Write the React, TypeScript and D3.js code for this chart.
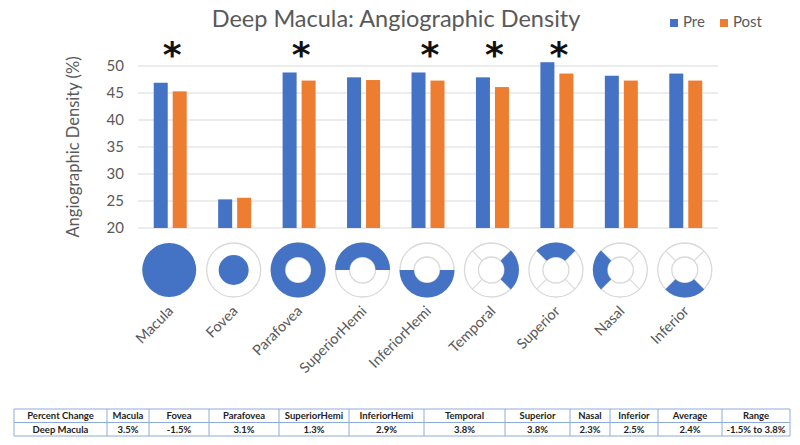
import { useEffect, useRef } from "react"
import * as d3 from "d3"

const categories = ["Macula", "Fovea", "Parafovea", "SuperiorHemi", "InferiorHemi", "Temporal", "Superior", "Nasal", "Inferior"]
const preValues = [46.9, 25.3, 48.8, 47.9, 48.8, 47.9, 50.7, 48.2, 48.6]
const postValues = [45.3, 25.6, 47.3, 47.4, 47.3, 46.1, 48.6, 47.3, 47.3]
const seriesNames = ["Pre", "Post"]
const significant = ["Macula", "Parafovea", "InferiorHemi", "Temporal", "Superior"]
const yTicks = [20, 25, 30, 35, 40, 45, 50]
// which part of the ETDRS grid each region covers
const regionShapes = ["full", "fovea", "ring", "hemiSup", "hemiInf", "temporal", "superior", "nasal", "inferior"]

const tableHeader = ["Percent Change", "Macula", "Fovea", "Parafovea", "SuperiorHemi", "InferiorHemi", "Temporal", "Superior", "Nasal", "Inferior", "Average", "Range"]
const tableRow = ["Deep Macula", "3.5%", "-1.5%", "3.1%", "1.3%", "2.9%", "3.8%", "3.8%", "2.3%", "2.5%", "2.4%", "-1.5% to 3.8%"]

const BLUE = "#4472c4"
const ORANGE = "#ed7d31"
const GRID = "#d9d9d9"
const TEXT = "#595959"
const FONT = "Lato, 'Open Sans', sans-serif"

export default function App() {
  const svgRef = useRef<SVGSVGElement>(null)

  useEffect(() => {
    if (!svgRef.current) return
    const width = 800
    const height = 445
    const margin = { top: 66, right: 82, bottom: 217, left: 138 }

    const svg = d3.select(svgRef.current).attr("width", width).attr("height", height)
    svg.selectAll("*").remove()

    const x = d3
      .scaleBand<string>()
      .domain(categories)
      .range([margin.left, width - margin.right])
      .paddingInner(0.488)
      .paddingOuter(0.244)

    const xSeries = d3.scaleBand<string>().domain(seriesNames).range([0, x.bandwidth()]).paddingInner(0.263)

    const y = d3
      .scaleLinear()
      .domain([20, 50])
      .range([height - margin.bottom, margin.top])

    // gridlines
    svg
      .append("g")
      .selectAll("line")
      .data(yTicks)
      .join("line")
      .attr("x1", margin.left)
      .attr("x2", width - margin.right)
      .attr("y1", (d) => y(d))
      .attr("y2", (d) => y(d))
      .attr("stroke", GRID)
      .attr("stroke-width", 1)

    // y axis labels
    svg
      .append("g")
      .selectAll("text")
      .data(yTicks)
      .join("text")
      .attr("x", margin.left - 14)
      .attr("y", (d) => y(d))
      .attr("dy", "0.35em")
      .attr("text-anchor", "end")
      .attr("font-family", FONT)
      .attr("font-size", 15)
      .attr("fill", TEXT)
      .text((d) => d)

    svg
      .append("text")
      .attr("transform", "rotate(-90)")
      .attr("x", -147)
      .attr("y", 79)
      .attr("text-anchor", "middle")
      .attr("font-family", FONT)
      .attr("font-size", 16.5)
      .attr("fill", TEXT)
      .text("Angiographic Density (%)")

    // bars
    const series = [preValues, postValues]
    const colors = [BLUE, ORANGE]
    series.forEach((values, si) => {
      svg
        .append("g")
        .selectAll("rect")
        .data(values)
        .join("rect")
        .attr("x", (_, i) => (x(categories[i]) as number) + (xSeries(seriesNames[si]) as number))
        .attr("y", (d) => y(d))
        .attr("width", xSeries.bandwidth())
        .attr("height", (d) => y(20) - y(d))
        .attr("fill", colors[si])
    })

    // significance markers
    svg
      .append("g")
      .selectAll("text")
      .data(significant)
      .join("text")
      .attr("x", (d) => (x(d) as number) + x.bandwidth() / 2 + 2)
      .attr("y", 67)
      .attr("text-anchor", "middle")
      .attr("font-family", "'DejaVu Sans', sans-serif")
      .attr("font-weight", "bold")
      .attr("font-size", 36)
      .attr("fill", "#111")
      .text("*")

    // title
    svg
      .append("text")
      .attr("x", 396)
      .attr("y", 27)
      .attr("text-anchor", "middle")
      .attr("font-family", FONT)
      .attr("font-size", 23.5)
      .attr("fill", TEXT)
      .text("Deep Macula: Angiographic Density")

    // legend
    const legend = svg.append("g").attr("transform", "translate(670,0)")
    const legendOffsets = [0, 50]
    seriesNames.forEach((name, i) => {
      const g = legend.append("g").attr("transform", `translate(${legendOffsets[i]},0)`)
      g.append("rect").attr("x", 0).attr("y", 19).attr("width", 8).attr("height", 8).attr("fill", colors[i])
      g.append("text")
        .attr("x", 13)
        .attr("y", 27)
        .attr("font-family", FONT)
        .attr("font-size", 15)
        .attr("fill", TEXT)
        .text(name)
    })

    // region diagrams
    const cy = 270
    const rOuter = 27
    const rInner = 13
    const arc = d3.arc<{ a0: number; a1: number; r0: number; r1: number }>()
      .innerRadius((d) => d.r0)
      .outerRadius((d) => d.r1)
      .startAngle((d) => d.a0)
      .endAngle((d) => d.a1)
    const P = Math.PI
    const sectorAngles: Record<string, [number, number]> = {
      ring: [0, 2 * P],
      hemiSup: [-P / 2, P / 2],
      hemiInf: [P / 2, (3 * P) / 2],
      temporal: [P / 4, (3 * P) / 4],
      superior: [-P / 4, P / 4],
      nasal: [(5 * P) / 4, (7 * P) / 4],
      inferior: [(3 * P) / 4, (5 * P) / 4],
    }
    const quadrants = ["temporal", "superior", "nasal", "inferior"]

    categories.forEach((c, i) => {
      const cx = (x(c) as number) + x.bandwidth() / 2 - 1
      const shape = regionShapes[i]
      const g = svg.append("g").attr("transform", `translate(${cx},${cy})`)
      if (shape === "full") {
        g.append("circle").attr("r", rOuter).attr("fill", BLUE)
      } else {
        g.append("circle").attr("r", rOuter).attr("fill", "#fff").attr("stroke", GRID).attr("stroke-width", 1.3)
        if (shape === "fovea") {
          g.append("circle").attr("r", 15).attr("fill", BLUE)
        } else {
          g.append("circle").attr("r", rInner).attr("fill", "none").attr("stroke", GRID).attr("stroke-width", 1.3)
          if (quadrants.includes(shape)) {
            ;[P / 4, (3 * P) / 4, (5 * P) / 4, (7 * P) / 4].forEach((a) => {
              g.append("line")
                .attr("x1", rInner * Math.sin(a))
                .attr("y1", -rInner * Math.cos(a))
                .attr("x2", rOuter * Math.sin(a))
                .attr("y2", -rOuter * Math.cos(a))
                .attr("stroke", GRID)
                .attr("stroke-width", 1.1)
            })
          }
          const [a0, a1] = sectorAngles[shape]
          g.append("path").attr("d", arc({ a0, a1, r0: rInner, r1: rOuter + 0.5 })).attr("fill", BLUE)
        }
      }
      svg
        .append("text")
        .attr("transform", `translate(${cx + 5},312) rotate(-45)`)
        .attr("text-anchor", "end")
        .attr("font-family", FONT)
        .attr("font-size", 14.5)
        .attr("fill", TEXT)
        .text(c)
    })

    // table
    const colEdges = [14, 107, 149, 209, 279, 349, 424, 505, 570, 610, 658, 722, 790]
    const rowEdges = [409, 422.5, 436]
    const table = svg.append("g")
    ;[tableHeader, tableRow].forEach((row, ri) => {
      row.forEach((cell, ci) => {
        table
          .append("text")
          .attr("x", (colEdges[ci] + colEdges[ci + 1]) / 2)
          .attr("y", (rowEdges[ri] + rowEdges[ri + 1]) / 2)
          .attr("dy", "0.35em")
          .attr("text-anchor", "middle")
          .attr("font-family", FONT)
          .attr("font-weight", "bold")
          .attr("font-size", 9.5)
          .attr("fill", "#222")
          .text(cell)
      })
    })
    rowEdges.forEach((ry) => {
      table
        .append("line")
        .attr("x1", colEdges[0])
        .attr("x2", colEdges[colEdges.length - 1])
        .attr("y1", ry)
        .attr("y2", ry)
        .attr("stroke", "#8eaadb")
        .attr("stroke-width", 1)
    })
    colEdges.forEach((cx) => {
      table
        .append("line")
        .attr("x1", cx)
        .attr("x2", cx)
        .attr("y1", rowEdges[0])
        .attr("y2", rowEdges[rowEdges.length - 1])
        .attr("stroke", "#8eaadb")
        .attr("stroke-width", 1)
    })
  }, [])

  return (
    <div style={{ position: "absolute", left: 0, top: 0, width: 800, height: 445, background: "#fff" }}>
      <svg ref={svgRef} style={{ display: "block" }} />
    </div>
  )
}
